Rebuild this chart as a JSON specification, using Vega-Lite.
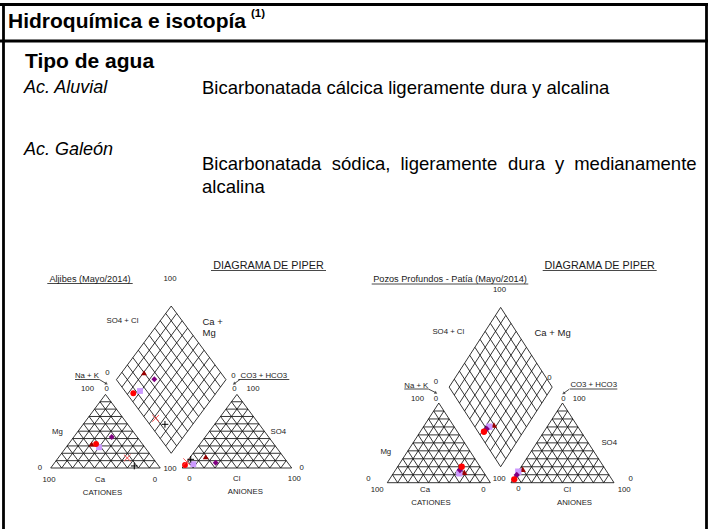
{
  "$schema": "https://vega.github.io/schema/vega-lite/v6.json",
  "width": 710,
  "height": 529,
  "padding": 0,
  "autosize": {"type": "none"},
  "background": "white",
  "config": {"view": {"stroke": null}},
  "datasets": {
    "grid": [
      {"x":0,"y":0,"x2":100,"y2":0},{"x":0,"y":0,"x2":50,"y2":86.603},{"x":100,"y":0,"x2":50,"y2":86.603},
      {"x":5,"y":8.660,"x2":95,"y2":8.660},{"x":10,"y":17.321,"x2":90,"y2":17.321},{"x":15,"y":25.981,"x2":85,"y2":25.981},{"x":20,"y":34.641,"x2":80,"y2":34.641},{"x":25,"y":43.301,"x2":75,"y2":43.301},{"x":30,"y":51.962,"x2":70,"y2":51.962},{"x":35,"y":60.622,"x2":65,"y2":60.622},{"x":40,"y":69.282,"x2":60,"y2":69.282},{"x":45,"y":77.942,"x2":55,"y2":77.942},
      {"x":10,"y":0,"x2":55,"y2":77.942},{"x":20,"y":0,"x2":60,"y2":69.282},{"x":30,"y":0,"x2":65,"y2":60.622},{"x":40,"y":0,"x2":70,"y2":51.962},{"x":50,"y":0,"x2":75,"y2":43.301},{"x":60,"y":0,"x2":80,"y2":34.641},{"x":70,"y":0,"x2":85,"y2":25.981},{"x":80,"y":0,"x2":90,"y2":17.321},{"x":90,"y":0,"x2":95,"y2":8.660},
      {"x":10,"y":0,"x2":5,"y2":8.660},{"x":20,"y":0,"x2":10,"y2":17.321},{"x":30,"y":0,"x2":15,"y2":25.981},{"x":40,"y":0,"x2":20,"y2":34.641},{"x":50,"y":0,"x2":25,"y2":43.301},{"x":60,"y":0,"x2":30,"y2":51.962},{"x":70,"y":0,"x2":35,"y2":60.622},{"x":80,"y":0,"x2":40,"y2":69.282},{"x":90,"y":0,"x2":45,"y2":77.942},
      {"x":120,"y":0,"x2":220,"y2":0},{"x":120,"y":0,"x2":170,"y2":86.603},{"x":220,"y":0,"x2":170,"y2":86.603},
      {"x":125,"y":8.660,"x2":215,"y2":8.660},{"x":130,"y":17.321,"x2":210,"y2":17.321},{"x":135,"y":25.981,"x2":205,"y2":25.981},{"x":140,"y":34.641,"x2":200,"y2":34.641},{"x":145,"y":43.301,"x2":195,"y2":43.301},{"x":150,"y":51.962,"x2":190,"y2":51.962},{"x":155,"y":60.622,"x2":185,"y2":60.622},{"x":160,"y":69.282,"x2":180,"y2":69.282},{"x":165,"y":77.942,"x2":175,"y2":77.942},
      {"x":130,"y":0,"x2":175,"y2":77.942},{"x":140,"y":0,"x2":180,"y2":69.282},{"x":150,"y":0,"x2":185,"y2":60.622},{"x":160,"y":0,"x2":190,"y2":51.962},{"x":170,"y":0,"x2":195,"y2":43.301},{"x":180,"y":0,"x2":200,"y2":34.641},{"x":190,"y":0,"x2":205,"y2":25.981},{"x":200,"y":0,"x2":210,"y2":17.321},{"x":210,"y":0,"x2":215,"y2":8.660},
      {"x":130,"y":0,"x2":125,"y2":8.660},{"x":140,"y":0,"x2":130,"y2":17.321},{"x":150,"y":0,"x2":135,"y2":25.981},{"x":160,"y":0,"x2":140,"y2":34.641},{"x":170,"y":0,"x2":145,"y2":43.301},{"x":180,"y":0,"x2":150,"y2":51.962},{"x":190,"y":0,"x2":155,"y2":60.622},{"x":200,"y":0,"x2":160,"y2":69.282},{"x":210,"y":0,"x2":165,"y2":77.942},
      {"x":110,"y":17.321,"x2":160,"y2":103.923},{"x":160,"y":103.923,"x2":110,"y2":190.526},{"x":110,"y":190.526,"x2":60,"y2":103.923},{"x":60,"y":103.923,"x2":110,"y2":17.321},
      {"x":115,"y":25.981,"x2":65,"y2":112.583},{"x":120,"y":34.641,"x2":70,"y2":121.244},{"x":125,"y":43.301,"x2":75,"y2":129.904},{"x":130,"y":51.962,"x2":80,"y2":138.564},{"x":135,"y":60.622,"x2":85,"y2":147.224},{"x":140,"y":69.282,"x2":90,"y2":155.885},{"x":145,"y":77.942,"x2":95,"y2":164.545},{"x":150,"y":86.603,"x2":100,"y2":173.205},{"x":155,"y":95.263,"x2":105,"y2":181.865},
      {"x":105,"y":25.981,"x2":155,"y2":112.583},{"x":100,"y":34.641,"x2":150,"y2":121.244},{"x":95,"y":43.301,"x2":145,"y2":129.904},{"x":90,"y":51.962,"x2":140,"y2":138.564},{"x":85,"y":60.622,"x2":135,"y2":147.224},{"x":80,"y":69.282,"x2":130,"y2":155.885},{"x":75,"y":77.942,"x2":125,"y2":164.545},{"x":70,"y":86.603,"x2":120,"y2":173.205},{"x":65,"y":95.263,"x2":115,"y2":181.865}
    ],
    "pts": [
      {"d":"A","s":"M3","x":37.4,"y":28.2},{"d":"A","s":"M3","x":141.5,"y":13.3},{"d":"A","s":"M3","x":85.2,"y":112.1},
      {"d":"A","s":"M4","x":55.7,"y":36.5},{"d":"A","s":"M4","x":150.6,"y":6.2},{"d":"A","s":"M4","x":94.6,"y":104.4},
      {"d":"A","s":"M2","x":44.1,"y":24.4},{"d":"A","s":"M2","x":130.2,"y":4.4},{"d":"A","s":"M2","x":81.5,"y":90.6},
      {"d":"A","s":"M1","x":41.4,"y":28.2},{"d":"A","s":"M1","x":122.6,"y":3.5},{"d":"A","s":"M1","x":75.4,"y":87.9},
      {"d":"A","s":"M5","x":69.9,"y":11.8},{"d":"A","s":"M5","x":124.1,"y":7.4},{"d":"A","s":"M5","x":95.8,"y":58.5},
      {"d":"A","s":"M6","x":76.3,"y":2.4},{"d":"A","s":"M6","x":127.8,"y":10.2},{"d":"A","s":"M6","x":104.3,"y":51.4},
      {"d":"P","s":"M3","x":74.7,"y":11.3},{"d":"P","s":"M3","x":131.4,"y":14.6},{"d":"P","s":"M3","x":103.5,"y":62.7},
      {"d":"P","s":"M2","x":69.9,"y":10.2},{"d":"P","s":"M2","x":127.1,"y":12.0},{"d":"P","s":"M2","x":99.0,"y":60.9},
      {"d":"P","s":"M4","x":70.5,"y":13.8},{"d":"P","s":"M4","x":125.6,"y":8.4},{"d":"P","s":"M4","x":96.5,"y":58.4},
      {"d":"P","s":"M1","x":72.2,"y":17.4},{"d":"P","s":"M1","x":123.2,"y":3.7},{"d":"P","s":"M1","x":93.8,"y":55.4}
    ]
  },
  "resolve": {"scale": {"x": "independent", "y": "independent"}},
  "layer": [
    {
      "encoding": {
        "x": {"field": "x", "type": "quantitative", "scale": {"domain": [0, 710], "nice": false, "zero": false}, "axis": null},
        "y": {"field": "y", "type": "quantitative", "scale": {"domain": [0, 529], "nice": false, "zero": false, "reverse": true}, "axis": null}
      },
      "layer": [
        {
          "data": {"values": [
            {"x":0,"y":4.5,"x2":708,"y2":4.5},
            {"x":0,"y":41,"x2":708,"y2":41},
            {"x":3.5,"y":3,"x2":3.5,"y2":529},
            {"x":706.5,"y":3,"x2":706.5,"y2":529}
          ]},
          "mark": {"type": "rule", "color": "#000000", "strokeWidth": 2.8},
          "encoding": {"x2": {"field": "x2"}, "y2": {"field": "y2"}}
        },
        {
          "data": {"values": [{"x":8,"y":21.5,"t":"Hidroquímica e isotopía"},{"x":25,"y":61.5,"t":"Tipo de agua"}]},
          "mark": {"type": "text", "font": "Liberation Sans", "fontWeight": "bold", "fontSize": 21, "align": "left", "baseline": "middle", "color": "#000000"},
          "encoding": {"text": {"field": "t"}}
        },
        {
          "data": {"values": [{"x":251,"y":13.5,"t":"(1)"}]},
          "mark": {"type": "text", "font": "Liberation Sans", "fontWeight": "bold", "fontSize": 11.5, "align": "left", "baseline": "middle", "color": "#000000"},
          "encoding": {"text": {"field": "t"}}
        },
        {
          "data": {"values": [{"x":24,"y":88,"t":"Ac. Aluvial"},{"x":24,"y":150,"t":"Ac. Galeón"}]},
          "mark": {"type": "text", "font": "Liberation Sans", "fontStyle": "italic", "fontSize": 18, "align": "left", "baseline": "middle", "color": "#000000"},
          "encoding": {"text": {"field": "t"}}
        },
        {
          "data": {"values": [
            {"x":202,"y":88,"t":"Bicarbonatada cálcica ligeramente dura y alcalina"},
            {"x":202,"y":164,"t":"Bicarbonatada"},
            {"x":331.8,"y":164,"t":"sódica,"},
            {"x":400.5,"y":164,"t":"ligeramente"},
            {"x":507.9,"y":164,"t":"dura"},
            {"x":555,"y":164,"t":"y"},
            {"x":574.2,"y":164,"t":"medianamente"},
            {"x":202,"y":187,"t":"alcalina"}
          ]},
          "mark": {"type": "text", "font": "Liberation Sans", "fontSize": 18.5, "align": "left", "baseline": "middle", "color": "#000000"},
          "encoding": {"text": {"field": "t"}}
        },
        {
          "data": {"values": [{"x":268.5,"y":265.7,"t":"DIAGRAMA DE PIPER"},{"x":599.7,"y":265.7,"t":"DIAGRAMA DE PIPER"}]},
          "mark": {"type": "text", "font": "Liberation Sans", "fontSize": 10.8, "align": "center", "baseline": "middle", "color": "#1a1a1a"},
          "encoding": {"text": {"field": "t"}}
        },
        {
          "data": {"values": [{"x":90,"y":279.3,"t":"Aljibes (Mayo/2014)"},{"x":450,"y":279.3,"t":"Pozos Profundos - Patía (Mayo/2014)"}]},
          "mark": {"type": "text", "font": "Liberation Sans", "fontSize": 9.2, "align": "center", "baseline": "middle", "color": "#1a1a1a"},
          "encoding": {"text": {"field": "t"}}
        },
        {
          "data": {"values": [{"x":202.5,"y":321.5,"t":"Ca +"},{"x":202.5,"y":332.5,"t":"Mg"},{"x":534.5,"y":333,"t":"Ca + Mg"}]},
          "mark": {"type": "text", "font": "Liberation Sans", "fontSize": 9.5, "align": "left", "baseline": "middle", "color": "#1a1a1a"},
          "encoding": {"text": {"field": "t"}}
        },
        {
          "data": {"values": [
            {"x":170,"y":279.3,"t":"100"},{"x":122.5,"y":321,"t":"SO4 + Cl"},{"x":87,"y":376,"t":"Na + K"},{"x":107.3,"y":373,"t":"0"},
            {"x":87.5,"y":389.3,"t":"100"},{"x":106.7,"y":389.3,"t":"0"},{"x":57.5,"y":431.7,"t":"Mg"},{"x":40,"y":468.3,"t":"0"},
            {"x":170,"y":469,"t":"100"},{"x":49,"y":480,"t":"100"},{"x":100,"y":480,"t":"Ca"},{"x":155,"y":480,"t":"0"},
            {"x":102.5,"y":492.7,"t":"CATIONES"},{"x":263.8,"y":376,"t":"CO3 + HCO3"},{"x":233.3,"y":376,"t":"0"},
            {"x":234.3,"y":389.3,"t":"0"},{"x":253,"y":389.3,"t":"100"},{"x":278.3,"y":431.7,"t":"SO4"},{"x":301.7,"y":468.3,"t":"0"},
            {"x":189.3,"y":479.3,"t":"0"},{"x":236.7,"y":479.3,"t":"Cl"},{"x":294.3,"y":479.3,"t":"100"},{"x":245.3,"y":492.3,"t":"ANIONES"},
            {"x":499.5,"y":289.5,"t":"100"},{"x":448.3,"y":331.5,"t":"SO4 + Cl"},{"x":549.5,"y":377.5,"t":"0"},{"x":416.3,"y":385.7,"t":"Na + K"},
            {"x":436,"y":382,"t":"0"},{"x":417.5,"y":399,"t":"100"},{"x":436,"y":399,"t":"0"},{"x":385.8,"y":451.7,"t":"Mg"},
            {"x":368.3,"y":479.3,"t":"0"},{"x":499.2,"y":479.3,"t":"100"},{"x":377.2,"y":490,"t":"100"},{"x":425,"y":490,"t":"Ca"},
            {"x":483.3,"y":490,"t":"0"},{"x":431,"y":503.3,"t":"CATIONES"},{"x":593.7,"y":385.3,"t":"CO3 + HCO3"},{"x":563.3,"y":399,"t":"0"},
            {"x":579.2,"y":399,"t":"100"},{"x":609.2,"y":443.3,"t":"SO4"},{"x":630.7,"y":479.3,"t":"0"},{"x":518.3,"y":489.3,"t":"0"},
            {"x":567.3,"y":490,"t":"Cl"},{"x":624.2,"y":490,"t":"100"},{"x":574.5,"y":503.3,"t":"ANIONES"}
          ]},
          "mark": {"type": "text", "font": "Liberation Sans", "fontSize": 7.8, "align": "center", "baseline": "middle", "color": "#1a1a1a"},
          "encoding": {"text": {"field": "t"}}
        },
        {
          "data": {"values": [
            {"x":211,"y":270.5,"x2":326,"y2":270.5},{"x":542.7,"y":270.5,"x2":656.7,"y2":270.5},
            {"x":47.3,"y":283.5,"x2":132.7,"y2":283.5},{"x":371.7,"y":284,"x2":528.3,"y2":284},
            {"x":75,"y":379.5,"x2":99.3,"y2":379.5},{"x":238.3,"y":379.5,"x2":289.3,"y2":379.5},
            {"x":404.3,"y":389,"x2":428.3,"y2":389},{"x":570,"y":389,"x2":617.3,"y2":389},
            {"x":99.3,"y":379.5,"x2":106,"y2":383.5},{"x":240,"y":379.5,"x2":234.5,"y2":383.5},
            {"x":428.3,"y":389,"x2":435.5,"y2":392.5},{"x":569.5,"y":389,"x2":564,"y2":393}
          ]},
          "mark": {"type": "rule", "color": "#1a1a1a", "strokeWidth": 0.8},
          "encoding": {"x2": {"field": "x2"}, "y2": {"field": "y2"}}
        },
        {
          "data": {"values": [{"x":106.5,"y":383.8},{"x":436,"y":393}]},
          "mark": {"type": "point", "shape": "triangle-up", "filled": true, "size": 12, "angle": 122, "color": "#1a1a1a"},
          "encoding": {}
        },
        {
          "data": {"values": [{"x":234,"y":383.8},{"x":563.5,"y":393.5}]},
          "mark": {"type": "point", "shape": "triangle-up", "filled": true, "size": 12, "angle": 235, "color": "#1a1a1a"},
          "encoding": {}
        }
      ]
    },
    {
      "encoding": {
        "x": {"field": "x", "type": "quantitative", "scale": {"domain": [-46.28, 601.83], "nice": false, "zero": false}, "axis": null},
        "y": {"field": "y", "type": "quantitative", "scale": {"domain": [-71.76, 550.59], "nice": false, "zero": false}, "axis": null}
      },
      "layer": [
        {
          "data": {"name": "grid"},
          "mark": {"type": "rule", "color": "#111111", "strokeWidth": 0.85},
          "encoding": {"x2": {"field": "x2"}, "y2": {"field": "y2"}}
        },
        {
          "data": {"name": "pts"},
          "transform": [{"filter": {"and": [{"field": "d", "equal": "A"}, {"field": "s", "oneOf": ["M1", "M2", "M3", "M4"]}]}}],
          "mark": {"type": "point", "filled": true, "size": 34, "opacity": 1},
          "encoding": {
            "shape": {"field": "s", "type": "nominal", "scale": {"domain": ["M1","M2","M3","M4","M5","M6"], "range": ["circle","square","triangle-up","diamond","M-1,-1L1,1M-1,1L1,-1","M-1,0L1,0M0,-1L0,1"]}, "legend": null},
            "color": {"field": "s", "type": "nominal", "scale": {"domain": ["M1","M2","M3","M4","M5","M6"], "range": ["#ff0000","#cc99ff","#990000","#800080","#ff5050","#000000"]}, "legend": null}
          }
        },
        {
          "data": {"name": "pts"},
          "transform": [{"filter": {"and": [{"field": "d", "equal": "A"}, {"field": "s", "oneOf": ["M5", "M6"]}]}}],
          "mark": {"type": "point", "filled": false, "size": 45, "strokeWidth": 1, "opacity": 1},
          "encoding": {
            "shape": {"field": "s", "type": "nominal", "scale": {"domain": ["M1","M2","M3","M4","M5","M6"], "range": ["circle","square","triangle-up","diamond","M-1,-1L1,1M-1,1L1,-1","M-1,0L1,0M0,-1L0,1"]}, "legend": null},
            "color": {"field": "s", "type": "nominal", "scale": {"domain": ["M1","M2","M3","M4","M5","M6"], "range": ["#ff0000","#cc99ff","#990000","#800080","#ff5050","#000000"]}, "legend": null}
          }
        }
      ]
    },
    {
      "encoding": {
        "x": {"field": "x", "type": "quantitative", "scale": {"domain": [-375.84, 313.15], "nice": false, "zero": false}, "axis": null},
        "y": {"field": "y", "type": "quantitative", "scale": {"domain": [-50.33, 524.67], "nice": false, "zero": false}, "axis": null}
      },
      "layer": [
        {
          "data": {"name": "grid"},
          "mark": {"type": "rule", "color": "#111111", "strokeWidth": 0.85},
          "encoding": {"x2": {"field": "x2"}, "y2": {"field": "y2"}}
        },
        {
          "data": {"name": "pts"},
          "transform": [{"filter": {"field": "d", "equal": "P"}}],
          "mark": {"type": "point", "filled": true, "size": 40, "opacity": 1},
          "encoding": {
            "shape": {"field": "s", "type": "nominal", "scale": {"domain": ["M1","M2","M3","M4","M5","M6"], "range": ["circle","square","triangle-up","diamond","M-1,-1L1,1M-1,1L1,-1","M-1,0L1,0M0,-1L0,1"]}, "legend": null},
            "color": {"field": "s", "type": "nominal", "scale": {"domain": ["M1","M2","M3","M4","M5","M6"], "range": ["#ff0000","#cc99ff","#990000","#800080","#ff5050","#000000"]}, "legend": null}
          }
        }
      ]
    }
  ]
}
